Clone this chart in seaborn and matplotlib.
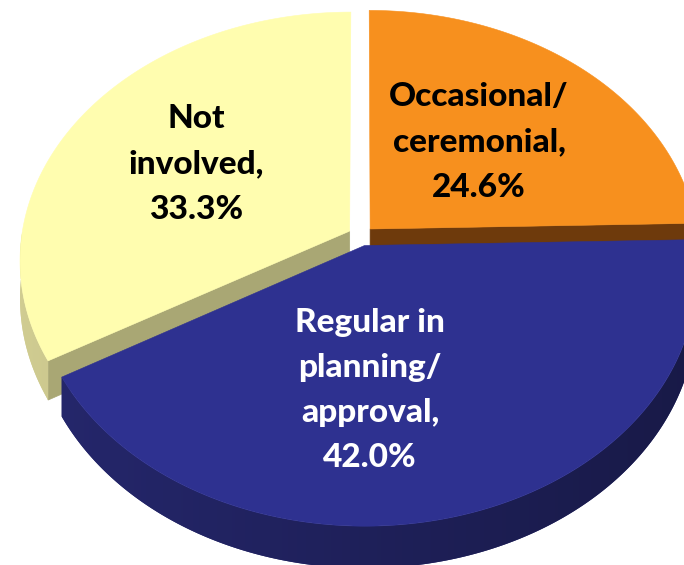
import numpy as np
import matplotlib
matplotlib.use("Agg")
import matplotlib.pyplot as plt
import seaborn as sns
from matplotlib.colors import to_rgb
from matplotlib.patches import Polygon

# Involvement categories and their shares (%)
categories = ["Occasional/\nceremonial", "Regular in\nplanning/\napproval", "Not\ninvolved"]
shares = [24.6, 42.0, 33.3]

top_colors = ["#F7901E", "#2E3190", "#FFFDAF"]
wall_colors = ["#6E3A0C", "#26286F", "#D4D094"]
cut_colors = ["#6E3A0C", "#1E1F62", "#A9A774"]
text_colors = ["black", "white", "black"]
label_xy = [(479, 142), (370, 390), (196, 164)]

sns.set_theme(style="white")
plt.rcParams["font.family"] = ["Lato", "DejaVu Sans"]

W, H = 684, 565
fig = plt.figure(figsize=(W / 100, H / 100), dpi=100)
ax = fig.add_axes([0, 0, 1, 1])
ax.set_xlim(0, W)
ax.set_ylim(H, 0)
ax.axis("off")

# tilted disc with mild perspective
cx, cy = 361, 236
a, b, persp = 328, 245.6, 0.1165
depth = 37
explode = 0.04


def project(u, v, drop=0.0):
    s = 1.0 / (1.0 + persp * v)
    return cx + a * u * s, cy - b * v * s + drop * s


total = sum(shares)
spans = [360.0 * s / total for s in shares]
starts = 90.0 - np.concatenate([[0], np.cumsum(spans)[:-1]])

slices = []
for i, (t0, sp) in enumerate(zip(starts, spans)):
    t1 = t0 - sp
    mid = np.radians((t0 + t1) / 2)
    u0, v0 = explode * np.cos(mid), explode * np.sin(mid)
    slices.append((i, t0, t1, u0, v0))

# far slices first
slices.sort(key=lambda s: -s[4])

# horizontal gradient used to shade the outer walls (lighter on the left)
grad = np.linspace(1.0, 0.62, 256)[None, :]

for i, t0, t1, u0, v0 in slices:
    ts = np.radians(np.linspace(t0, t1, 400))
    us = u0 + np.cos(ts)
    vs = v0 + np.sin(ts)

    # radial cut faces that face the viewer
    for t, nt in ((np.radians(t0), np.radians(t0) + np.pi / 2),
                  (np.radians(t1), np.radians(t1) - np.pi / 2)):
        if np.sin(nt) < -1e-3:
            ue, ve = u0 + np.cos(t), v0 + np.sin(t)
            pts = [project(u0, v0), project(ue, ve),
                   project(ue, ve, depth), project(u0, v0, depth)]
            ax.add_patch(Polygon(pts, closed=True, fc=cut_colors[i],
                                 ec=cut_colors[i], lw=0.5, zorder=1))

    # outer wall where it faces the viewer
    vis = np.sin(ts) < 0
    if vis.any():
        uw, vw = us[vis], vs[vis]
        upper = [project(u, v) for u, v in zip(uw, vw)]
        lower = [project(u, v, depth) for u, v in zip(uw, vw)]
        wall = Polygon(upper + lower[::-1], closed=True, fc=wall_colors[i],
                       ec="none", zorder=1)
        ax.add_patch(wall)
        base = np.array(to_rgb(wall_colors[i]))
        img = base[None, None, :] * grad[..., None]
        im = ax.imshow(img, extent=(cx - a * 1.15, cx + a * 1.15, H, 0),
                       aspect="auto", interpolation="bilinear", zorder=1.1)
        im.set_clip_path(wall)

    # top face
    top = [project(u0, v0)] + [project(u, v) for u, v in zip(us, vs)]
    ax.add_patch(Polygon(top, closed=True, fc=top_colors[i], ec=top_colors[i],
                         lw=0.4, zorder=1.2))

    x, y = label_xy[i]
    ax.text(x, y, f"{categories[i]},\n{shares[i]:.1f}%", ha="center", va="center",
            multialignment="center", fontsize=24, fontweight="black",
            color=text_colors[i], linespacing=1.68, zorder=5)

ax.set_xlim(0, W)
ax.set_ylim(H, 0)
fig.savefig("out.png", dpi=100)
